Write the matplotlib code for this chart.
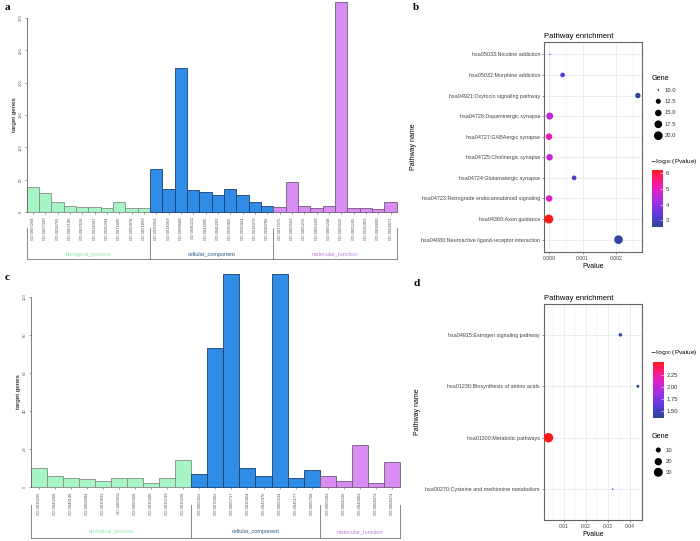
import numpy as np
import matplotlib
matplotlib.use('Agg')
import matplotlib.pyplot as plt
from matplotlib.colors import LinearSegmentedColormap, Normalize

plt.rcParams['font.family'] = ['Liberation Sans', 'DejaVu Sans']

W, H = 700, 541

# ---- panel a : GO terms, genes per term ----
a_bp_ids = ['GO:0007268', 'GO:0007399', 'GO:0034765', 'GO:0007186', 'GO:0007626',
            'GO:0014047', 'GO:0035094', 'GO:0071805', 'GO:0050878', 'GO:0051899']
a_bp_vals = [39, 30, 16, 10, 7, 7, 6, 15, 6, 6]
a_cc_ids = ['GO:0030054', 'GO:0014069', 'GO:0098688', 'GO:0045211', 'GO:0043005',
            'GO:0045202', 'GO:0030425', 'GO:0030424', 'GO:0016079', 'GO:0048786']
a_cc_vals = [66, 35, 223, 34, 31, 26, 36, 26, 16, 9]
a_mf_ids = ['GO:0017075', 'GO:0005509', 'GO:0005216', 'GO:0005249', 'GO:0005248',
            'GO:0005515', 'GO:0005245', 'GO:0015459', 'GO:0004890', 'GO:0004871']
a_mf_vals = [7, 47, 9, 6, 9, 325, 6, 6, 4, 16]
a_yticks = [0, 50, 100, 150, 200, 250, 300]

# ---- panel c ----
c_bp_ids = ['GO:0030335', 'GO:0043066', 'GO:0048146', 'GO:0008284', 'GO:0030833',
            'GO:0008611', 'GO:0060326', 'GO:0030440', 'GO:0030749', 'GO:0035556']
c_bp_vals = [10, 6, 5, 4, 3, 4.6, 5, 2, 4.6, 14]
c_cc_ids = ['GO:0005622', 'GO:0070062', 'GO:0005737', 'GO:0030424', 'GO:0042470',
            'GO:0005634', 'GO:0045177', 'GO:0005768']
c_cc_vals = [7, 73, 112, 10, 6, 112, 4.6, 9]
c_mf_ids = ['GO:0005002', 'GO:0004536', 'GO:0042802', 'GO:0004672', 'GO:0004674']
c_mf_vals = [6, 3, 22, 2, 13]
c_yticks = [0, 20, 40, 60, 80, 100]

groups = ['biological_process', 'cellular_component', 'molecular_function']
bar_colors = ['#a6f5c4', '#2f8de8', '#d98df2']
edge_colors = ['#8a8a8a', '#1a3f6f', '#6e5a7a']
text_colors = ['#8fe8b0', '#2a5a80', '#c080e0']

# ---- panel b : KEGG enrichment ----
b_terms = ['hsa05033:Nicotine addiction', 'hsa05032:Morphine addiction',
           'hsa04921:Oxytocin signaling pathway', 'hsa04728:Dopaminergic synapse',
           'hsa04727:GABAergic synapse', 'hsa04725:Cholinergic synapse',
           'hsa04724:Glutamatergic synapse', 'hsa04723:Retrograde endocannabinoid signaling',
           'hsa04360:Axon guidance', 'hsa04080:Neuroactive ligand-receptor interaction']
b_pval = [3.2e-5, 4.1e-4, 2.63e-3, 2.8e-5, 7e-6, 2.5e-5, 7.5e-4, 1.1e-5, 6e-7, 2.06e-3]
b_gene = [10, 12, 13, 16, 15, 15, 12, 15, 21, 20]
b_gene_breaks = [10.0, 12.5, 15.0, 17.5, 20.0]

# ---- panel d ----
d_terms = ['hsa04915:Estrogen signaling pathway', 'hsa01230:Biosynthesis of amino acids',
           'hsa01100:Metabolic pathways', 'hsa00270:Cysteine and methionine metabolism']
d_pval = [0.0356, 0.0435, 0.0030, 0.0321]
d_gene = [6, 5, 34, 4]
d_gene_breaks = [10, 20, 30]

cmap = LinearSegmentedColormap.from_list('pv', [
    (0.0, '#2c4696'), (0.2, '#5a3ad8'), (0.42, '#9a30e6'),
    (0.65, '#e020c8'), (0.85, '#ff1a70'), (1.0, '#ff1a1a')])


def fr(x0, y0, x1, y1):
    # pixel box -> figure fraction [left, bottom, width, height]
    return [x0 / W, 1 - y1 / H, (x1 - x0) / W, (y1 - y0) / H]


fig = plt.figure(figsize=(7, 5.41), dpi=100)


def go_bars(rect, ids, vals, yticks, ymax, br_top, br_bot, lab_y):
    ax = fig.add_axes(rect)
    x0 = 0
    labels = []
    bounds = []
    for g in range(3):
        n = len(vals[g])
        xs = np.arange(x0, x0 + n)
        ax.bar(xs, vals[g], width=1.0, align='edge', color=bar_colors[g],
               edgecolor=edge_colors[g], linewidth=0.6, clip_on=False)
        labels += ids[g]
        bounds.append((x0, x0 + n))
        x0 += n
    ax.set_xlim(0, x0)
    ax.set_ylim(0, ymax)
    for s in ['top', 'right', 'bottom']:
        ax.spines[s].set_visible(False)
    ax.spines['left'].set_color('#666666')
    ax.spines['left'].set_linewidth(0.6)
    ax.set_yticks(yticks)
    ax.set_yticklabels([str(t) for t in yticks], rotation=90, va='center', fontsize=3, color='#333333')
    ax.set_xticks(np.arange(x0) + 0.5)
    ax.set_xticklabels(labels, rotation=90, fontsize=3, color='#333333')
    ax.tick_params(axis='both', length=1.5, width=0.4, pad=1.5, colors='#555555')
    ax.set_ylabel('target genes', fontsize=4.5, labelpad=1)
    tr = ax.get_xaxis_transform()
    for g, (s, e) in enumerate(bounds):
        ax.plot([s, s], [br_top, br_bot], color='#777777', lw=0.6, transform=tr, clip_on=False)
        ax.plot([s, e], [br_bot, br_bot], color='#777777', lw=0.6, transform=tr, clip_on=False)
        ax.text((s + e) / 2, lab_y, groups[g], transform=tr, ha='center', va='center',
                fontsize=4, color=text_colors[g])
    ax.plot([x0, x0], [br_top, br_bot], color='#777777', lw=0.6, transform=tr, clip_on=False)
    return ax


# a : axes 26.7..396.7 px, baseline 212, 300-tick at 18
go_bars(fr(26.7, 18, 396.7, 212), [a_bp_ids, a_cc_ids, a_mf_ids],
        [a_bp_vals, a_cc_vals, a_mf_vals], a_yticks, 300,
        (212 - 228) / 194, (212 - 259) / 194, (212 - 254) / 194)
# c : axes 30.7..400 px, baseline 487, 100-tick at 297
go_bars(fr(30.7, 297, 400, 487), [c_bp_ids, c_cc_ids, c_mf_ids],
        [c_bp_vals, c_cc_vals, c_mf_vals], c_yticks, 100,
        (487 - 505) / 190, (487 - 538) / 190, (487 - 532) / 190)


def dot_diam(g, gmin, gmax, dmin, dmax):
    g = np.asarray(g, dtype=float)
    r = np.clip((g - gmin) / (gmax - gmin), 0, 1)
    d_px = dmin + (dmax - dmin) * np.sqrt(r)
    return (d_px * 72 / 100) ** 2


def enrich(rect, terms, pval, gene, gmin, gmax, dmax, xticks, xfmt, minor):
    ax = fig.add_axes(rect)
    y = np.arange(len(terms))[::-1] + 1
    logp = -np.log10(pval)
    norm = Normalize(vmin=logp.min(), vmax=logp.max())
    ax.scatter(pval, y, s=dot_diam(gene, gmin, gmax, 1.5, dmax), c=logp, cmap=cmap,
               norm=norm, zorder=3, linewidths=0)
    lo, hi = min(pval), max(pval)
    pad = (hi - lo) * 0.05
    ax.set_xlim(lo - pad, hi + pad)
    ax.set_ylim(0.4, len(terms) + 0.6)
    ax.set_yticks(y)
    ax.set_yticklabels(terms, fontsize=3.9, color='#333333')
    ax.set_xticks(xticks)
    ax.set_xticklabels([xfmt.format(t) for t in xticks], fontsize=3.7, color='#333333')
    ax.set_xticks(minor, minor=True)
    ax.tick_params(axis='both', length=1.5, width=0.4, pad=1.5, colors='#444444')
    ax.tick_params(axis='x', which='minor', length=0)
    ax.grid(True, which='major', color='#e0e7ef', lw=0.5, zorder=0)
    ax.grid(True, which='minor', axis='x', color='#ebf0f5', lw=0.35, zorder=0)
    ax.set_axisbelow(True)
    for s in ax.spines.values():
        s.set_color('#666666')
        s.set_linewidth(0.8)
    ax.set_title('Pathway enrichment', loc='left', fontsize=5.5, pad=3)
    ax.set_xlabel('Pvalue', fontsize=5, labelpad=1.5)
    ax.set_ylabel('Pathway name', fontsize=5, labelpad=3)
    return ax, norm


axb, norm_b = enrich(fr(544.3, 42, 642.3, 252), b_terms, np.array(b_pval), b_gene,
                     10, 21, 9.0, [0.0, 0.001, 0.002], '{:.3f}',
                     [0.0005, 0.0015, 0.0025])
axd, norm_d = enrich(fr(544, 304, 642.3, 520), d_terms, np.array(d_pval), d_gene,
                     4, 34, 9.5, [0.01, 0.02, 0.03, 0.04], '{:.2f}',
                     [0.005, 0.015, 0.025, 0.035, 0.045])


def cbar(rect, norm, ticks, fmt, title_y, title_x):
    cax = fig.add_axes(rect)
    sm = plt.cm.ScalarMappable(norm=norm, cmap=cmap)
    cb = fig.colorbar(sm, cax=cax, ticks=ticks)
    cb.outline.set_visible(False)
    cb.ax.set_yticklabels([fmt.format(t) for t in ticks], fontsize=4.2, color='#333333')
    cb.ax.tick_params(length=2, width=0.4, color='white', direction='in', pad=2)
    fig.text(title_x / W, 1 - title_y / H, r'$-\log_{10}$(Pvalue)', fontsize=4.6,
             va='center', ha='left')


cbar(fr(652.3, 170, 663.3, 227), norm_b, [3, 4, 5, 6], '{:d}', 162, 650)
cbar(fr(653.3, 361.7, 664, 417.7), norm_d, [1.50, 1.75, 2.00, 2.25], '{:.2f}', 352.7, 650)

# gene size legends, drawn on a transparent overlay in pixel coordinates
ov = fig.add_axes([0, 0, 1, 1])
ov.set_xlim(0, W)
ov.set_ylim(H, 0)
ov.axis('off')


def size_legend(breaks, gmin, gmax, dmax, title_y, ys, lab_x):
    ov.text(652, title_y, 'Gene', fontsize=5.2, va='center', ha='left')
    ov.scatter([658.3] * len(breaks), ys, s=dot_diam(breaks, gmin, gmax, 1.5, dmax),
               color='black', linewidths=0)
    for b, yy in zip(breaks, ys):
        ov.text(lab_x, yy, str(b), fontsize=4.2, va='center', ha='left', color='#333333')


size_legend(b_gene_breaks, 10, 21, 9.0, 78, [90, 101.3, 113, 124.3, 135.7], 664.5)
size_legend(d_gene_breaks, 4, 34, 9.5, 436.7, [450, 461.7, 472.3], 665.5)

# panel letters
for lab, (x, y) in zip('abcd', [(5, 8), (413, 8), (5, 277), (413, 284)]):
    fig.text(x / W, 1 - y / H, lab, fontsize=8, fontweight='bold',
             family='Liberation Serif', va='center', ha='left')

fig.savefig('out.png', dpi=100)
